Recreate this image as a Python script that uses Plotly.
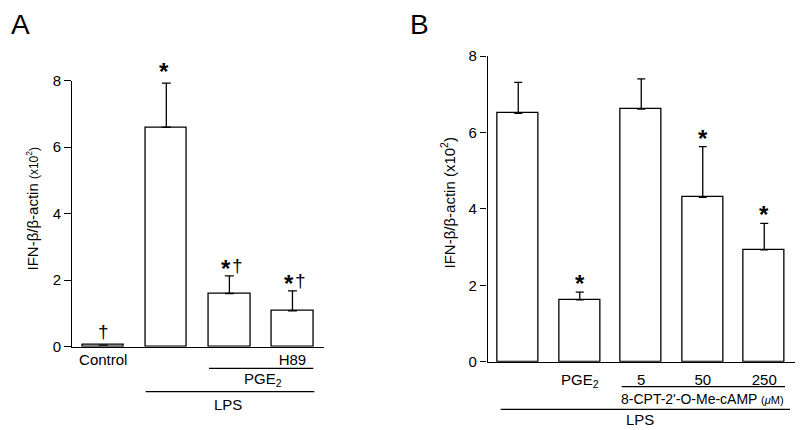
import plotly.graph_objects as go

# ---------- data ----------
a_categories = ["Control", "LPS", "LPS+PGE2", "LPS+PGE2+H89"]
a_ticklabels = ["Control", "", "", "H89"]
a_means = [0.05, 6.6, 1.6, 1.08]
a_errors = [0.0, 1.33, 0.53, 0.6]
a_star = [False, True, True, True]      # * significance vs control
a_dagger = [True, False, True, True]    # † significance vs LPS

b_categories = ["LPS", "LPS+PGE2", "cAMP 5", "cAMP 50", "cAMP 250"]
b_ticklabels = ["", "PGE<sub>2</sub>", "5", "50", "250"]
b_means = [6.5, 1.62, 6.61, 4.3, 2.93]
b_errors = [0.81, 0.2, 0.79, 1.33, 0.69]
b_star = [False, True, False, True, True]

y_ticks = [0, 2, 4, 6, 8]

FONT = "Liberation Sans, Arial, Helvetica, sans-serif"

fig = go.Figure()

bar_style = dict(marker=dict(color="white", line=dict(color="black", width=1.3)),
                 showlegend=False, hoverinfo="skip")

fig.add_trace(go.Bar(x=list(range(len(a_means))), y=a_means, width=0.66,
                     error_y=dict(type="data", array=a_errors, arrayminus=[0]*len(a_errors),
                                  symmetric=False, color="black", thickness=1.3, width=4.5),
                     xaxis="x", yaxis="y", **bar_style))
fig.add_trace(go.Bar(x=list(range(len(b_means))), y=b_means, width=0.667,
                     error_y=dict(type="data", array=b_errors, arrayminus=[0]*len(b_errors),
                                  symmetric=False, color="black", thickness=1.3, width=4),
                     xaxis="x2", yaxis="y2", **bar_style))

axis_common = dict(showgrid=False, zeroline=False, showline=True, linecolor="black",
                   linewidth=1.3, automargin=False,
                   tickfont=dict(family=FONT, size=15, color="black"))

fig.update_layout(
    width=800, height=430,
    margin=dict(l=0, r=0, t=0, b=0),
    paper_bgcolor="white", plot_bgcolor="white",
    font=dict(family=FONT, color="black"),
    xaxis=dict(domain=[71.7/800, 324/800], range=[-0.5, 3.5], anchor="y",
               tickmode="array", tickvals=list(range(len(a_ticklabels))), ticktext=a_ticklabels,
               ticks="", ticklabelstandoff=-1, **axis_common),
    yaxis=dict(domain=[1-346.7/430, 1-80.7/430], range=[0, 8], anchor="x",
               tickmode="array", tickvals=y_ticks, ticks="outside", ticklen=6.5,
               tickwidth=1.3, tickcolor="black", **axis_common),
    xaxis2=dict(domain=[487.5/800, 795/800], range=[-0.5, 4.5], anchor="y2",
                tickmode="array", tickvals=list(range(len(b_ticklabels))), ticktext=b_ticklabels,
                ticks="", ticklabelstandoff=4, **axis_common),
    yaxis2=dict(domain=[1-361.7/430, 1-56/430], range=[0, 8], anchor="x2",
                tickmode="array", tickvals=y_ticks, ticks="outside", ticklen=6.5,
                tickwidth=1.3, tickcolor="black", **axis_common),
    bargap=0,
)

annotations = []
# significance marks
for i, (m, e) in enumerate(zip(a_means, a_errors)):
    both = a_star[i] and a_dagger[i]
    if a_star[i]:
        annotations.append(dict(x=i, y=m + e, xref="x", yref="y", text="<b>*</b>",
                                showarrow=False, yanchor="bottom",
                                yshift=-8 if both else -4, xshift=-3 if both else -2,
                                font=dict(family=FONT, size=24, color="black")))
    if a_dagger[i]:
        annotations.append(dict(x=i, y=m + e, xref="x", yref="y", text="†",
                                showarrow=False, yanchor="bottom",
                                yshift=-2 if both else 1, xshift=8 if both else 0,
                                font=dict(family=FONT, size=19, color="black")))
for i, (m, e) in enumerate(zip(b_means, b_errors)):
    if b_star[i]:
        annotations.append(dict(x=i, y=m + e, xref="x2", yref="y2", text="<b>*</b>",
                                showarrow=False, yanchor="bottom", yshift=-7,
                                font=dict(family=FONT, size=24, color="black")))

def txt(x, y, t, size=15, **kw):
    d = dict(x=x/800, y=1-y/430, xref="paper", yref="paper", text=t, showarrow=False,
             xanchor="center", yanchor="middle", font=dict(family=FONT, size=size, color="black"))
    d.update(kw)
    annotations.append(d)

# panel letters
txt(20, 25, "A", size=28)
txt(419, 25, "B", size=28)
# y-axis titles
txt(32.5, 209, "IFN-β/β-actin <span style='font-size:12px'>(x10<sup>2</sup>)</span>", size=15, textangle=-90)
txt(447.5, 203, "IFN-β/β-actin (x10<sup>2</sup>)", size=15, textangle=-90)
# group labels
txt(263, 379, "PGE<sub>2</sub>")
txt(228, 404.5, "LPS")
txt(702, 399, "8-CPT-2'-O-Me-cAMP <span style='font-size:11px'>(<i>μ</i>M)</span>", size=14)
txt(640, 419, "LPS")

fig.update_layout(annotations=annotations)

shapes = []
def hline(x0, x1, y):
    shapes.append(dict(type="line", xref="paper", yref="paper", x0=x0/800, x1=x1/800,
                       y0=1-y/430, y1=1-y/430, line=dict(color="black", width=1.3)))
hline(209, 313.3, 368.3)
hline(145.7, 314.3, 391.7)
hline(621.7, 785, 386.7)
hline(500.7, 790, 409.3)
fig.update_layout(shapes=shapes)

fig.write_html("out.html", config={"displayModeBar": False},
               post_script="document.body.style.margin='0';document.body.style.padding='0';document.body.style.overflow='hidden';")
